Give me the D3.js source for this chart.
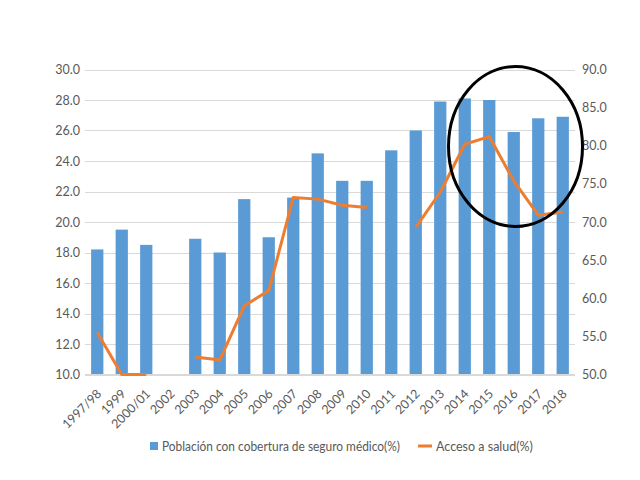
<!DOCTYPE html>
<html lang="es">
<head>
<meta charset="UTF-8">
<title>Cobertura y acceso a salud</title>
<script src="https://d3js.org/d3.v7.min.js"></script>
<style>
  body { margin: 0; background: #fff; }
  text { font-family: Lato, "Open Sans", sans-serif; fill: #595959; }
  .grid line { stroke: #d9d9d9; stroke-width: 1px; }
</style>
</head>
<body>
<svg width="640" height="480"></svg>
<script>
// datos
const years = ["1997/98", "1999", "2000/01", "2002", "2003", "2004", "2005", "2006", "2007",
  "2008", "2009", "2010", "2011", "2012", "2013", "2014", "2015", "2016", "2017", "2018"];
const cobertura = [18.2, 19.5, 18.5, null, 18.9, 18.0, 21.5, 19.0, 21.6,
  24.5, 22.7, 22.7, 24.7, 26.0, 27.9, 28.1, 28.0, 25.9, 26.8, 26.9];
const acceso = [55.5, 50.0, 50.0, null, 52.3, 51.9, 59.0, 61.0, 73.2,
  73.0, 72.2, 71.9, null, 69.3, 73.9, 80.2, 81.2, 75.4, 70.9, 71.3];
const leftTicks = [10, 12, 14, 16, 18, 20, 22, 24, 26, 28, 30];
const rightTicks = [50, 55, 60, 65, 70, 75, 80, 85, 90];

const svg = d3.select("svg");
const plotL = 85, plotR = 575, plotT = 69.5, plotB = 374.5;

const x = d3.scaleBand().domain(years).range([plotL, plotR]).paddingInner(0.5).paddingOuter(0.25);
const yL = d3.scaleLinear().domain([10, 30]).range([plotB, plotT]);
const yR = d3.scaleLinear().domain([50, 90]).range([plotB, plotT]);

// líneas de cuadrícula
svg.append("g").attr("class", "grid")
  .selectAll("line").data(leftTicks).enter().append("line")
  .attr("x1", plotL).attr("x2", plotR)
  .attr("y1", d => Math.round(yL(d)) + 0.5).attr("y2", d => Math.round(yL(d)) + 0.5);

// ejes
const axL = svg.append("g").attr("transform", `translate(${plotL},0)`)
  .call(d3.axisLeft(yL).tickValues(leftTicks).tickFormat(d3.format(".1f")).tickSize(0).tickPadding(5));
const axR = svg.append("g").attr("transform", `translate(${plotR},0)`)
  .call(d3.axisRight(yR).tickValues(rightTicks).tickFormat(d3.format(".1f")).tickSize(0).tickPadding(7));
[axL, axR].forEach(a => {
  a.select(".domain").remove();
  a.selectAll("text").attr("font-size", 12.5).style("fill", "#595959")
    .style("font-family", "Lato, 'Open Sans', sans-serif");
});

// barras
svg.append("g").selectAll("rect")
  .data(years.map((y, i) => ({ y, v: cobertura[i] })).filter(d => d.v != null))
  .enter().append("rect")
  .attr("x", d => x(d.y))
  .attr("width", x.bandwidth())
  .attr("y", d => yL(d.v))
  .attr("height", d => yL(10) - yL(d.v))
  .attr("fill", "#5b9bd5");

// eje x con etiquetas giradas
svg.append("line").attr("x1", plotL).attr("x2", plotR)
  .attr("y1", plotB).attr("y2", plotB).attr("stroke", "#d9d9d9");
svg.append("g").selectAll("text").data(years).enter().append("text")
  .attr("transform", d => `translate(${x(d) + x.bandwidth() / 2 + 5},${plotB + 20}) rotate(-45)`)
  .attr("text-anchor", "end")
  .attr("font-size", 12.5)
  .text(d => d);

// línea de acceso a salud
const line = d3.line()
  .defined(d => d.v != null)
  .x(d => x(d.y) + x.bandwidth() / 2)
  .y(d => yR(d.v));
svg.append("path")
  .datum(years.map((y, i) => ({ y, v: acceso[i] })))
  .attr("d", line)
  .attr("fill", "none")
  .attr("stroke", "#ed7d31")
  .attr("stroke-width", 3)
  .attr("stroke-linejoin", "round");

// elipse de resalte
svg.append("ellipse")
  .attr("cx", 515.5).attr("cy", 146.5).attr("rx", 67).attr("ry", 80)
  .attr("fill", "none").attr("stroke", "#000").attr("stroke-width", 3);

// leyenda
const lg = svg.append("g").attr("transform", "translate(150,446)");
lg.append("rect").attr("x", 0).attr("y", -4).attr("width", 8).attr("height", 8).attr("fill", "#5b9bd5");
lg.append("text").attr("x", 12).attr("y", 4.5).attr("font-size", 12.5)
  .attr("textLength", 238).attr("lengthAdjust", "spacingAndGlyphs")
  .text("Población con cobertura de seguro médico(%)");
lg.append("line").attr("x1", 268).attr("x2", 282).attr("y1", 0).attr("y2", 0)
  .attr("stroke", "#ed7d31").attr("stroke-width", 3);
lg.append("text").attr("x", 286).attr("y", 4.5).attr("font-size", 12.5)
  .text("Acceso a salud(%)");
</script>
</body>
</html>
